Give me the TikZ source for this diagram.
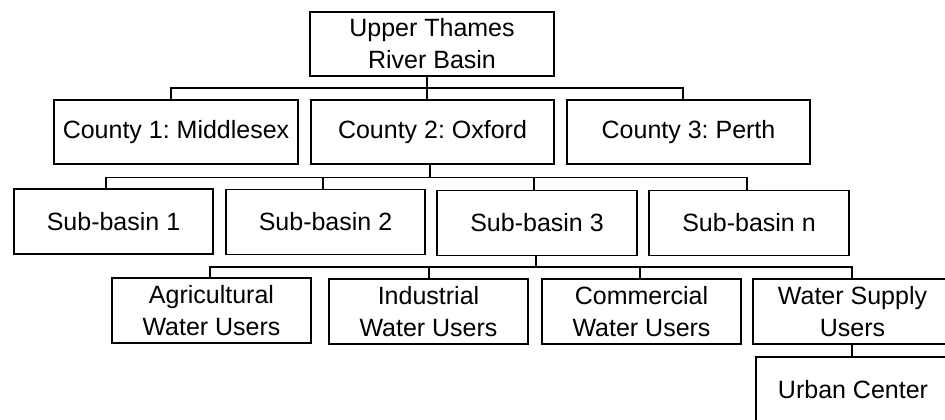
\documentclass[tikz,border=0pt]{standalone}
\usepackage{fontspec}
\setmainfont{Liberation Sans}
\frenchspacing
\begin{document}
\begin{tikzpicture}[x=0.5pt,y=-0.5pt,
  box/.style={draw, line width=0.75pt, inner sep=0pt, align=center,
    font=\fontsize{12.5pt}{16pt}\selectfont\frenchspacing},
  bigbox/.style={box, minimum width=122pt, minimum height=32pt},
  smallbox/.style={box, minimum width=99.5pt, minimum height=32.5pt},
  wire/.style={line width=0.85pt}]
\useasboundingbox (0,0) rectangle (945,419);
\clip (0,0) rectangle (945,419);
% nodes
\node[bigbox] (top) at (432,44) {Upper Thames\\River Basin};
\node[bigbox] (c1) at (176,132) {County 1: Middlesex};
\node[bigbox, minimum width=121.5pt] (c2) at (432.5,132) {County 2: Oxford};
\node[bigbox, minimum width=121.5pt] (c3) at (688.5,132) {County 3: Perth};
\node[smallbox] (s1) at (113.5,221.5) {Sub-basin 1};
\node[smallbox] (s2) at (325.5,222) {Sub-basin 2};
\node[smallbox, minimum width=100pt] (s3) at (537,223) {Sub-basin 3};
\node[smallbox, minimum width=100pt] (sn) at (749,223) {Sub-basin n};
\node[smallbox] (ag) at (211.5,310.5) {Agricultural\\Water Users};
\node[smallbox] (in) at (428.5,311.5) {Industrial\\Water Users};
\node[smallbox] (cm) at (641.5,311.5) {Commercial\\Water Users};
\node[smallbox] (ws) at (852.5,311.5) {Water Supply\\Users};
\node[smallbox, minimum width=97pt] (ur) at (853,389.5) {Urban Center};
% bus levels
\coordinate (b1) at (0,88);
\coordinate (b2) at (0,177.5);
\coordinate (b3) at (0,267);
% attachment points
\coordinate (topB) at ([xshift=-2.5pt]top.south);
\coordinate (c1T) at ([xshift=-2.5pt]c1.north);
\coordinate (c2T) at ([xshift=-2.75pt]c2.north);
\coordinate (c3T) at ([xshift=-2.75pt]c3.north);
\coordinate (c2B) at ([xshift=-1.25pt]c2.south);
\coordinate (s1T) at ([xshift=-3.75pt]s1.north);
\coordinate (s2T) at ([xshift=-1.25pt]s2.north);
\coordinate (s3T) at ([xshift=-1.5pt]s3.north);
\coordinate (snT) at ([xshift=-1pt]sn.north);
\coordinate (s3B) at ([xshift=-0.5pt]s3.south);
\coordinate (agT) at ([xshift=-0.75pt]ag.north);
\coordinate (inT) at ([xshift=0.25pt]in.north);
\coordinate (cmT) at ([xshift=-0.75pt]cm.north);
\coordinate (wsT) at ([xshift=-0.25pt]ws.north);
\coordinate (wsB) at ([xshift=-0.25pt]ws.south);
% level 1
\draw[wire] (topB) -- (topB |- c2.north);
\draw[wire] (c1T) |- (c3T |- b1) -- (c3T);
% level 2
\draw[wire] (c2B) -- (c2B |- b2);
\draw[wire] (s1T) |- (snT |- b2) -- (snT);
\draw[wire] (s2T) -- (s2T |- b2);
\draw[wire] (s3T) -- (s3T |- b2);
% level 3
\draw[wire] (s3B) -- (s3B |- b3);
\draw[wire] (agT) |- (wsT |- b3) -- (wsT);
\draw[wire] (inT) -- (inT |- b3);
\draw[wire] (cmT) -- (cmT |- b3);
% urban
\draw[wire] (wsB) -- (wsB |- ur.north);
\end{tikzpicture}
\end{document}
